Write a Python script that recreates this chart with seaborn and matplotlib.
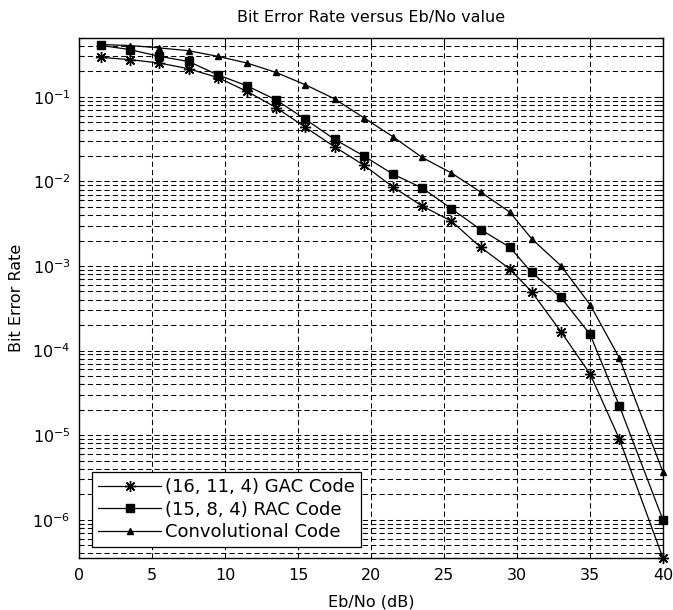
import matplotlib
matplotlib.use("Agg")
import matplotlib.pyplot as plt
import numpy as np
import pandas as pd
import seaborn as sns
from matplotlib.ticker import FixedLocator, MultipleLocator, NullFormatter

# Eb/No sample points (dB)
snr_db = [1.5, 3.5, 5.5, 7.5, 9.5, 11.5, 13.5, 15.5, 17.5, 19.5,
          21.5, 23.5, 25.5, 27.5, 29.5, 31, 33, 35, 37, 40]

# Simulated bit error rates
ber_gac = [0.293, 0.275, 0.251, 0.215, 0.169, 0.116, 0.0746, 0.0436, 0.0257, 0.0156,
           0.0086, 0.00512, 0.0034, 0.00167, 0.000924, 0.000497, 0.000168, 5.3e-5, 9.1e-6, 3.5e-7]
ber_rac = [0.406, 0.361, 0.301, 0.262, 0.182, 0.135, 0.092, 0.0543, 0.0315, 0.0200,
           0.0122, 0.00837, 0.00477, 0.0027, 0.00167, 0.00084, 0.000425, 0.000156, 2.24e-5, 9.9e-7]
ber_conv = [0.415, 0.404, 0.379, 0.351, 0.301, 0.251, 0.194, 0.139, 0.0947, 0.0566,
            0.0338, 0.0192, 0.0126, 0.0075, 0.00434, 0.0021, 0.00101, 0.000350, 8.24e-5, 3.65e-6]

labels = ["(16, 11, 4) GAC Code", "(15, 8, 4) RAC Code", "Convolutional Code"]
series = [ber_gac, ber_rac, ber_conv]
markers = [(8, 2, 0), "s", "^"]
marker_sizes = [8, 5.5, 4.5]

y_decades = [1e-6, 1e-5, 1e-4, 1e-3, 1e-2, 1e-1]
y_min, y_max = 3.5e-7, 0.5

sns.set_theme(style="white")
plt.rcParams["font.family"] = ["DejaVu Sans"]

fig = plt.figure(figsize=(6.73, 6.10), dpi=100)
ax = fig.add_axes([0.1174, 0.0847, 0.8678, 0.8535])
ax.set_facecolor("white")

for lab, ber, mk, ms in zip(labels, series, markers, marker_sizes):
    df = pd.DataFrame({"snr": snr_db, "ber": ber})
    sns.lineplot(data=df, x="snr", y="ber", ax=ax, color="black", linewidth=0.9,
                 marker=mk, markersize=ms, markeredgecolor="black",
                 markeredgewidth=1.0, markerfacecolor="black", label=lab,
                 clip_on=False, zorder=3)

ax.set_yscale("log")
ax.set_xlim(0, 40)
ax.set_ylim(y_min, y_max)

ax.xaxis.set_major_locator(MultipleLocator(5))
ax.yaxis.set_major_locator(FixedLocator(y_decades))
minor = [m * d for d in [1e-7] + y_decades for m in range(2, 10) if y_min <= m * d <= y_max]
ax.yaxis.set_minor_locator(FixedLocator(minor))
ax.yaxis.set_minor_formatter(NullFormatter())

dash = (0, (5, 3))
ax.set_axisbelow(True)
ax.grid(which="major", axis="both", color="black", linestyle=dash, linewidth=0.75)
ax.grid(which="minor", axis="y", color="black", linestyle=dash, linewidth=0.75)

ax.tick_params(which="both", direction="in", top=True, right=True, color="black",
               labelsize=11.5, labelcolor="black")
ax.tick_params(which="major", length=5, width=0.8)
ax.tick_params(axis="x", which="major", pad=7)
ax.tick_params(axis="y", which="major", pad=6)
ax.tick_params(which="minor", length=3, width=0.8, left=True, right=True)

for sp in ax.spines.values():
    sp.set_color("black")
    sp.set_linewidth(1.0)

ax.set_title("Bit Error Rate versus Eb/No value", fontsize=11.5, color="black", pad=11)
ax.set_xlabel("Eb/No (dB)", fontsize=11.5, color="black", labelpad=8)
ax.set_ylabel("Bit Error Rate", fontsize=11.5, color="black", labelpad=6)

leg = ax.legend(loc="lower left", bbox_to_anchor=(0.0217, 0.0211), borderaxespad=0,
                fontsize=13, handlelength=3.5, labelspacing=0.25, handletextpad=0.2,
                borderpad=0.35, fancybox=False, framealpha=1, edgecolor="black")
leg.get_frame().set_linewidth(0.9)
for t in leg.get_texts():
    t.set_color("black")

fig.savefig("out.png", dpi=100, facecolor="white")
